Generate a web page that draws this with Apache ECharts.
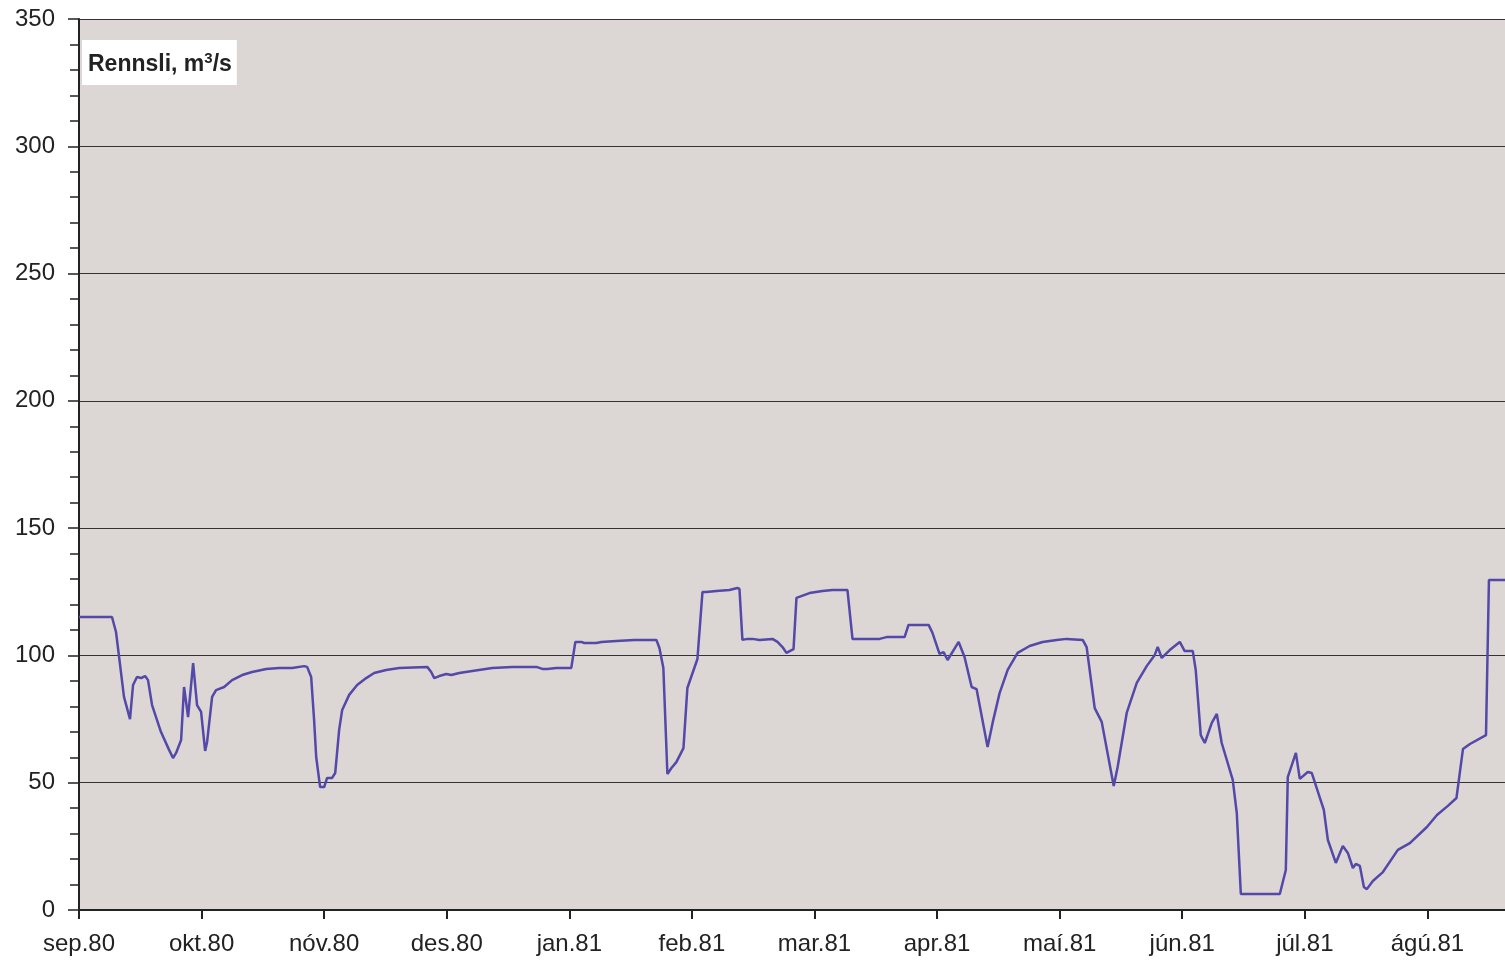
<!DOCTYPE html>
<html>
<head>
<meta charset="utf-8">
<script src="https://cdn.jsdelivr.net/npm/echarts@6/dist/echarts.min.js"></script>
<style>html,body{margin:0;padding:0;background:#fff;}#c{width:1505px;height:961px;}</style>
</head>
<body>
<div id="c"></div>
<script>
// Month labels (x axis, one per month, uniform spacing)
const monthLabels = ['sep.80','okt.80','nóv.80','des.80','jan.81','feb.81','mar.81','apr.81','maí.81','jún.81','júl.81','ágú.81'];
// Time in months since 1 Sep 1980
const t = [0,0.269,0.302,0.327,0.367,0.416,0.441,0.473,0.506,0.539,0.563,0.596,0.669,0.735,0.767,0.792,0.833,0.857,0.890,0.931,0.963,0.996,1.029,1.045,1.086,1.118,1.184,1.249,1.331,1.412,1.527,1.633,1.739,1.837,1.861,1.894,1.918,1.935,1.967,2.000,2.024,2.065,2.090,2.122,2.147,2.204,2.269,2.343,2.408,2.506,2.612,2.841,2.873,2.898,2.939,2.996,3.037,3.102,3.208,3.371,3.535,3.731,3.780,3.820,3.894,4.016,4.049,4.098,4.122,4.220,4.261,4.384,4.531,4.710,4.735,4.767,4.800,4.833,4.873,4.931,4.963,5.045,5.086,5.118,5.200,5.306,5.371,5.388,5.412,5.453,5.494,5.551,5.657,5.698,5.739,5.771,5.829,5.853,5.959,6.065,6.147,6.269,6.310,6.531,6.588,6.735,6.767,6.931,6.963,7.020,7.053,7.086,7.176,7.224,7.282,7.322,7.412,7.453,7.510,7.576,7.657,7.755,7.861,7.976,8.057,8.188,8.220,8.286,8.343,8.441,8.473,8.547,8.629,8.710,8.776,8.800,8.833,8.898,8.980,9.020,9.086,9.110,9.151,9.184,9.241,9.282,9.322,9.412,9.445,9.478,9.796,9.845,9.861,9.927,9.959,10.024,10.057,10.155,10.188,10.253,10.310,10.351,10.392,10.416,10.449,10.482,10.506,10.555,10.637,10.759,10.857,10.996,11.078,11.167,11.237,11.290,11.347,11.478,11.502,11.633];
// Flow, m3/s
const flow = [115.1,115.1,109.2,99.4,83.7,75.0,88.4,91.5,91.1,91.9,90.3,80.5,69.9,62.9,59.7,61.7,66.8,87.6,75.8,97.0,80.5,77.8,62.5,66.0,83.7,86.4,87.6,90.3,92.3,93.5,94.7,95.1,95.1,95.8,95.5,91.5,74.6,60.1,48.3,48.3,51.9,51.9,53.8,70.7,78.6,84.5,88.4,91.1,93.1,94.3,95.1,95.5,93.5,91.1,91.9,92.7,92.3,93.1,93.9,95.1,95.5,95.5,94.7,94.7,95.1,95.1,105.3,105.3,104.9,104.9,105.3,105.7,106.1,106.1,102.9,95.1,53.4,55.8,58.1,63.6,87.2,98.6,124.9,124.9,125.3,125.7,126.5,126.1,106.1,106.5,106.5,106.1,106.5,105.3,103.3,101.0,102.5,122.6,124.5,125.3,125.7,125.7,106.5,106.5,107.2,107.2,112.0,112.0,108.8,100.6,101.3,98.2,105.3,99.4,87.6,86.8,64.0,73.5,85.2,94.3,101.0,103.7,105.3,106.1,106.5,106.1,103.3,79.3,73.9,48.7,56.2,77.4,89.2,95.8,100.2,103.3,99.0,102.1,105.3,101.7,101.7,94.3,68.7,65.6,73.5,77.0,65.6,51.1,38.1,6.3,6.3,15.7,52.2,61.7,51.5,54.2,53.8,39.3,27.5,18.5,25.1,22.4,16.5,18.1,17.3,9.0,8.2,11.4,14.9,23.6,26.3,32.6,37.3,40.9,44.0,63.2,65.2,68.7,129.6,129.6];

const data = t.map((x, i) => [x, flow[i]]);
const chart = echarts.init(document.getElementById('c'));
const txt = '#222';
const ff = 'Liberation Sans, Arial, sans-serif';
chart.setOption({
  animation: false,
  backgroundColor: '#ffffff',
  title: {
    text: 'Rennsli, m{sup|3}/s',
    left: 82, top: 40,
    backgroundColor: '#ffffff',
    padding: [11, 5, 9, 6],
    textStyle: {
      fontFamily: ff,
      fontSize: 23, fontWeight: 'bold', color: '#222',
      rich: { sup: { fontFamily: ff, fontSize: 15, fontWeight: 'bold', color: '#222', verticalAlign: 'top', padding: [0, 0, 12, 0] } }
    }
  },
  grid: { left: 79, right: 0, top: 19, bottom: 51, show: true, backgroundColor: '#dcd6d5', borderWidth: 0 },
  xAxis: {
    type: 'value', min: 0, max: 11.633, interval: 1,
    axisLine: { show: true, onZero: false, lineStyle: { color: '#222', width: 2 } },
    axisTick: { show: true, length: 9, lineStyle: { color: '#222', width: 2 } },
    splitLine: { show: false },
    axisLabel: {
      margin: 22, fontSize: 24, color: txt, fontFamily: ff,
      showMaxLabel: false,
      formatter: v => monthLabels[Math.round(v)] || ''
    }
  },
  yAxis: {
    type: 'value', min: 0, max: 350, interval: 50,
    axisLine: { show: true, lineStyle: { color: '#222', width: 2 } },
    axisTick: { show: true, length: 11, lineStyle: { color: '#222', width: 1.5 } },
    minorTick: { show: true, splitNumber: 5, length: 9, lineStyle: { color: '#222', width: 1.5 } },
    splitLine: { show: true, lineStyle: { color: '#333', width: 1.2 } },
    axisLabel: { margin: 24, fontSize: 24, color: txt, fontFamily: ff }
  },
  series: [{
    type: 'line', data: data, showSymbol: false, symbol: 'none',
    lineStyle: { color: '#5448a8', width: 2.5 },
    z: 5
  }]
});
</script>
</body>
</html>
